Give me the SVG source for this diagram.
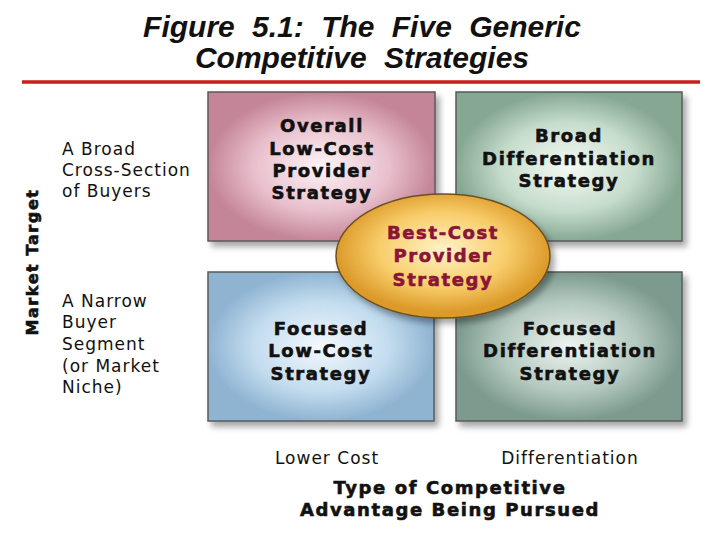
<svg xmlns="http://www.w3.org/2000/svg" width="720" height="539" viewBox="0 0 720 539">
<defs>
<radialGradient id="gp"><stop offset="0" stop-color="#fdf4f6"/><stop offset="0.6" stop-color="#e8bfcc"/><stop offset="1" stop-color="#c48598"/></radialGradient>
<radialGradient id="gg"><stop offset="0" stop-color="#f5faf5"/><stop offset="0.6" stop-color="#c5dccb"/><stop offset="1" stop-color="#86a893"/></radialGradient>
<radialGradient id="gb"><stop offset="0" stop-color="#f4f9fd"/><stop offset="0.6" stop-color="#c3dcee"/><stop offset="1" stop-color="#8fb4d2"/></radialGradient>
<radialGradient id="gt"><stop offset="0" stop-color="#eef4f1"/><stop offset="0.6" stop-color="#b4c9c0"/><stop offset="1" stop-color="#7c9a8e"/></radialGradient>
<radialGradient id="go" cx="0.5" cy="0.45"><stop offset="0" stop-color="#fff3c8"/><stop offset="0.6" stop-color="#f8cd6a"/><stop offset="1" stop-color="#dc9a2a"/></radialGradient>
<filter id="sh" x="-10%" y="-10%" width="130%" height="130%"><feDropShadow dx="4" dy="5" stdDeviation="3" flood-color="#000" flood-opacity="0.35"/></filter>
</defs>
<style>
.box{stroke:#5a5a5a;stroke-width:1.5;filter:url(#sh)}
.t{font-family:"DejaVu Sans",sans-serif;font-weight:bold;font-size:18px;letter-spacing:1.6px;text-anchor:middle;fill:#111;stroke:#111;stroke-width:0.6}
.l{font-family:"DejaVu Sans",sans-serif;font-size:17px;letter-spacing:1px;fill:#111}
.ti{font-family:"Liberation Sans",Arial,sans-serif;font-weight:bold;font-style:italic;font-size:30px;word-spacing:9px;text-anchor:middle;fill:#111}
.r{fill:#8a1538;stroke:#8a1538}
</style>
<rect width="720" height="539" fill="#fff"/>
<text class="ti" x="362" y="37">Figure  5.1:  The  Five  Generic</text>
<text class="ti" x="362" y="68">Competitive  Strategies</text>
<line x1="22" y1="82" x2="700" y2="82" stroke="#c81e1e" stroke-width="3.5"/>
<g id="n1"><rect class="box" x="208" y="92" width="227" height="149" fill="url(#gp)"/>
<text class="t" x="322" y="132">Overall</text><text class="t" x="322" y="155">Low-Cost</text><text class="t" x="322" y="177">Provider</text><text class="t" x="322" y="199">Strategy</text></g>
<g id="n2"><rect class="box" x="456" y="92" width="226" height="149" fill="url(#gg)"/>
<text class="t" x="569" y="142">Broad</text><text class="t" x="569" y="165">Differentiation</text><text class="t" x="569" y="187">Strategy</text></g>
<g id="n3"><rect class="box" x="208" y="272" width="226" height="149" fill="url(#gb)"/>
<text class="t" x="321" y="335">Focused</text><text class="t" x="321" y="357">Low-Cost</text><text class="t" x="321" y="380">Strategy</text></g>
<g id="n4"><rect class="box" x="456" y="272" width="226" height="149" fill="url(#gt)"/>
<text class="t" x="570" y="335">Focused</text><text class="t" x="570" y="357">Differentiation</text><text class="t" x="570" y="380">Strategy</text></g>
<g id="n5"><ellipse cx="443" cy="256" rx="107" ry="62" fill="url(#go)" stroke="#6a5020" stroke-width="1.5" filter="url(#sh)"/>
<text class="t r" x="443" y="239">Best-Cost</text><text class="t r" x="443" y="262">Provider</text><text class="t r" x="443" y="286">Strategy</text></g>
<g id="labels">
<text class="l" x="62" y="155">A Broad</text><text class="l" x="62" y="176">Cross-Section</text><text class="l" x="62" y="197">of Buyers</text>
<text class="l" x="62" y="307">A Narrow</text><text class="l" x="62" y="328">Buyer</text><text class="l" x="62" y="350">Segment</text><text class="l" x="62" y="372">(or Market</text><text class="l" x="62" y="393">Niche)</text>
<text class="t" transform="translate(38,262) rotate(-90)" style="font-size:16px">Market Target</text>
<text class="l" x="327" y="464" text-anchor="middle">Lower Cost</text>
<text class="l" x="570" y="464" text-anchor="middle">Differentiation</text>
<text class="t" x="450" y="494">Type of Competitive</text>
<text class="t" x="450" y="516">Advantage Being Pursued</text>
</g>
<g id="connectors"/>
</svg>
